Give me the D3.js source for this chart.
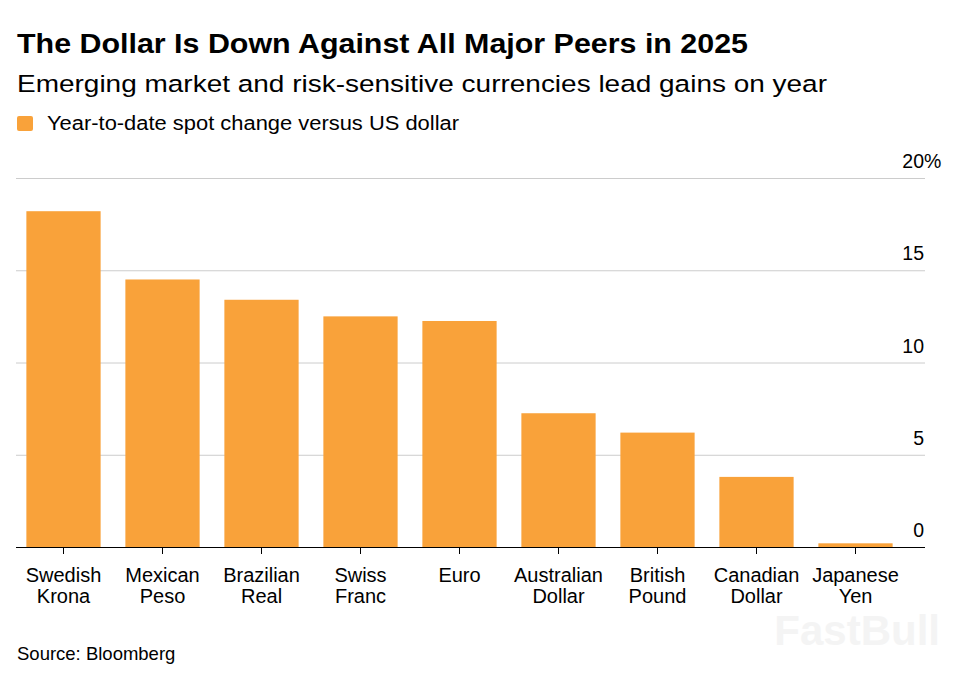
<!DOCTYPE html>
<html>
<head>
<meta charset="utf-8">
<script src="https://cdn.jsdelivr.net/npm/d3@7"></script>
<style>
  body { margin: 0; background: #fff; }
  text { font-family: "Liberation Sans", Arial, sans-serif; }
</style>
</head>
<body>
<svg width="971" height="681"></svg>
<script>
// currencies, year-to-date spot change vs USD (%)
var categories = ["Swedish Krona", "Mexican Peso", "Brazilian Real", "Swiss Franc", "Euro",
                  "Australian Dollar", "British Pound", "Canadian Dollar", "Japanese Yen"];
var changes = [18.2, 14.5, 13.4, 12.5, 12.25, 7.25, 6.2, 3.8, 0.2];
var yTicks = [0, 5, 10, 15, 20];

var svg = d3.select("svg"),
    orange = "#f9a23a",
    plotLeft = 14, plotRight = 905, gridRight = 925,
    plotTop = 178, plotBottom = 547;

var x = d3.scaleBand()
    .domain(categories)
    .range([plotLeft, plotRight])
    .paddingInner(0.25)
    .paddingOuter(0.125);

var y = d3.scaleLinear()
    .domain([0, 20])
    .range([plotBottom, plotTop]);

// titles
svg.append("text").attr("x", 17).attr("y", 53)
    .attr("font-size", 28).attr("font-weight", "bold").attr("fill", "#000")
    .attr("textLength", 731).attr("lengthAdjust", "spacingAndGlyphs")
    .text("The Dollar Is Down Against All Major Peers in 2025");
svg.append("text").attr("x", 17).attr("y", 92)
    .attr("font-size", 24.5).attr("fill", "#000")
    .attr("textLength", 810).attr("lengthAdjust", "spacingAndGlyphs")
    .text("Emerging market and risk-sensitive currencies lead gains on year");

// legend
svg.append("rect").attr("x", 17).attr("y", 116).attr("width", 16).attr("height", 15)
    .attr("rx", 2).attr("fill", orange);
svg.append("text").attr("x", 47).attr("y", 130)
    .attr("font-size", 19.5).attr("fill", "#000")
    .attr("textLength", 412).attr("lengthAdjust", "spacingAndGlyphs")
    .text("Year-to-date spot change versus US dollar");

// grid + y labels
var grid = svg.append("g");
grid.selectAll("line").data(yTicks.filter(function(d) { return d > 0; }))
    .enter().append("line")
    .attr("x1", 16).attr("x2", gridRight)
    .attr("y1", function(d) { return y(d) + 0.5; })
    .attr("y2", function(d) { return y(d) + 0.5; })
    .attr("stroke", "#cccccc").attr("stroke-width", 1);
grid.selectAll("text").data(yTicks)
    .enter().append("text")
    .attr("x", 924)
    .attr("y", function(d) { return y(d) - 10; })
    .attr("font-size", 19.5).attr("fill", "#000")
    .attr("text-anchor", "end")
    .text(function(d) { return d; });
grid.append("text").attr("x", 924).attr("y", y(20) - 10)
    .attr("font-size", 19.5).attr("fill", "#000")
    .text("%");

// bars
svg.append("g").selectAll("rect")
    .data(categories)
    .enter().append("rect")
    .attr("x", function(d) { return x(d); })
    .attr("width", x.bandwidth())
    .attr("y", function(d, i) { return y(changes[i]); })
    .attr("height", function(d, i) { return y(0) - y(changes[i]); })
    .attr("fill", orange);

// x axis
var xAxis = svg.append("g")
    .attr("transform", "translate(0," + plotBottom + ")")
    .call(d3.axisBottom(x).tickSize(7).tickSizeOuter(0).tickFormat(""));
xAxis.select(".domain").attr("d", "M16,0.5H" + gridRight).attr("stroke", "#000");
xAxis.selectAll(".tick line").attr("stroke", "#000");

var labels = svg.append("g").selectAll("text")
    .data(categories)
    .enter().append("text")
    .attr("text-anchor", "middle")
    .attr("font-size", 20).attr("fill", "#000")
    .attr("transform", function(d) { return "translate(" + (x(d) + x.bandwidth() / 2) + ",582)"; });
labels.selectAll("tspan")
    .data(function(d) { return d.split(" "); })
    .enter().append("tspan")
    .attr("x", 0)
    .attr("dy", function(d, i) { return i ? 21 : 0; })
    .text(function(d) { return d; });

// source + watermark
svg.append("text").attr("x", 17).attr("y", 660)
    .attr("font-size", 18.5).attr("fill", "#000")
    .text("Source: Bloomberg");
svg.append("text").attr("x", 940).attr("y", 645)
    .attr("text-anchor", "end")
    .attr("font-size", 42).attr("font-weight", "bold").attr("fill", "#f4f4f4")
    .text("FastBull");
</script>
</body>
</html>
